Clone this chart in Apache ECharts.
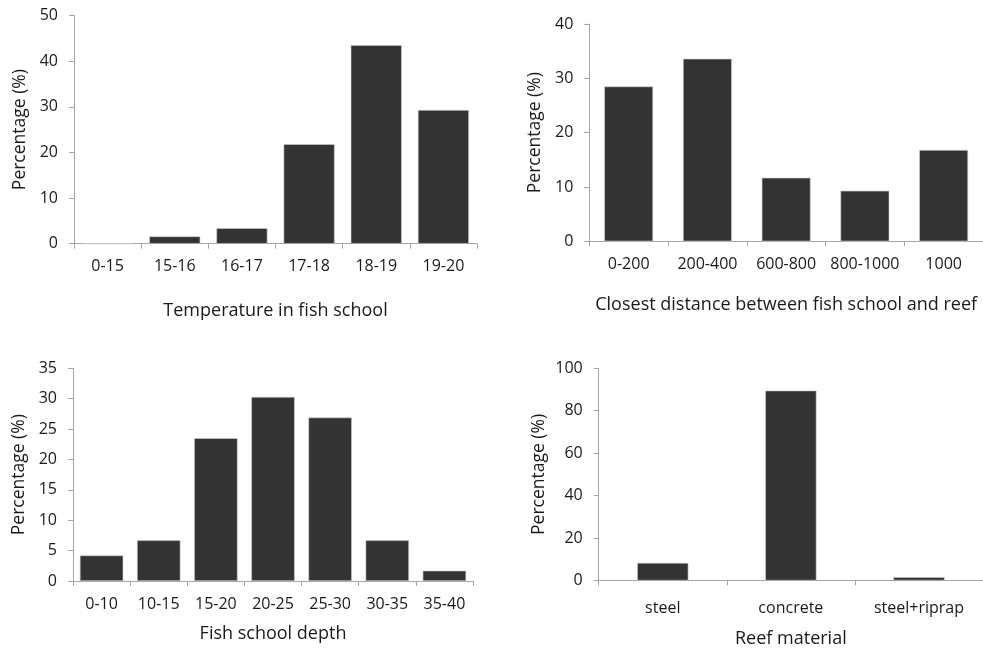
<!DOCTYPE html>
<html>
<head>
<meta charset="utf-8">
<script src="https://cdn.jsdelivr.net/npm/echarts@6/dist/echarts.min.js"></script>
<style>html,body{margin:0;padding:0;background:#fff}#c{width:983px;height:649px}</style>
</head>
<body>
<div id="c"></div>
<script>
// Panel A: temperature
const tempCats = ['0-15','15-16','16-17','17-18','18-19','19-20'];
const tempVals = [0, 1.6, 3.4, 21.8, 43.5, 29.3];
// Panel B: closest distance
const distCats = ['0-200','200-400','600-800','800-1000','1000'];
const distVals = [28.5, 33.6, 11.7, 9.3, 16.8];
// Panel C: depth
const depthCats = ['0-10','10-15','15-20','20-25','25-30','30-35','35-40'];
const depthVals = [4.2, 6.7, 23.5, 30.3, 26.9, 6.7, 1.7];
// Panel D: material
const matCats = ['steel','concrete','steel+riprap'];
const matVals = [8.3, 89.5, 1.6];

const FONT = '"Open Sans", "DejaVu Sans", sans-serif';
const TXT = '#1a1a1a';
const AX = '#a6a6a6';
const BAR = '#333333';

const grids = [
  {left: 74, top: 15.5, width: 403, height: 228.2},
  {left: 589.3, top: 24, width: 400, height: 217.3},
  {left: 73, top: 368.3, width: 400, height: 212.7},
  {left: 598.7, top: 368.3, width: 391, height: 212.7}
];

function xAx(i, cats, name, nameGap, margin) {
  return {
    type: 'category', gridIndex: i, data: cats,
    name: name, nameLocation: 'middle', nameGap: nameGap,
    nameTextStyle: {fontFamily: FONT, fontSize: 18, color: TXT},
    axisLine: {lineStyle: {color: AX, width: 1}},
    axisTick: {show: true, alignWithLabel: false, length: 5, lineStyle: {color: AX}},
    axisLabel: {fontFamily: FONT, fontSize: 16, color: TXT, margin: margin, interval: 0},
    splitLine: {show: false}
  };
}
function yAx(i, max, interval, nameGap) {
  return {
    type: 'value', gridIndex: i, min: 0, max: max, interval: interval,
    name: 'Percentage (%)', nameLocation: 'middle', nameGap: nameGap,
    nameTextStyle: {fontFamily: FONT, fontSize: 17.5, color: TXT},
    axisLine: {show: true, lineStyle: {color: AX, width: 1}},
    axisTick: {show: true, length: 5, lineStyle: {color: AX}},
    axisLabel: {fontFamily: FONT, fontSize: 16, color: TXT, margin: 16},
    splitLine: {show: false}
  };
}
function bar(i, vals, gap) {
  return {
    type: 'bar', xAxisIndex: i, yAxisIndex: i, data: vals,
    barCategoryGap: gap,
    itemStyle: {color: BAR, borderColor: '#d0d0d0', borderWidth: 0.6},
    silent: true
  };
}

const chart = echarts.init(document.getElementById('c'), null, {renderer: 'canvas'});
chart.setOption({
  animation: false,
  backgroundColor: '#ffffff',
  grid: grids,
  xAxis: [
    xAx(0, tempCats, 'Temperature in fish school', 58.5, 15),
    xAx(1, distCats, 'Closest distance between fish school and reef', 54.5, 15.5),
    xAx(2, depthCats, 'Fish school depth', 43.5, 15),
    xAx(3, matCats, 'Reef material', 49.5, 20)
  ],
  yAxis: [
    yAx(0, 50, 10, 45),
    yAx(1, 40, 10, 45),
    yAx(2, 35, 5, 45),
    yAx(3, 100, 20, 51)
  ],
  series: [
    bar(0, tempVals, '24%'),
    bar(1, distVals, '38%'),
    bar(2, depthVals, '24%'),
    bar(3, matVals, '60%')
  ]
});
</script>
</body>
</html>
